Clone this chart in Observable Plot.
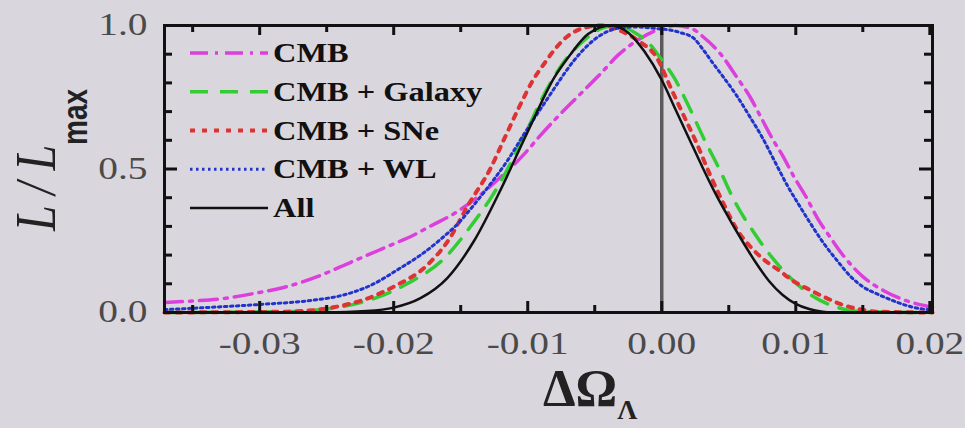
<!DOCTYPE html>
<html><head><meta charset="utf-8">
<script src="https://cdn.jsdelivr.net/npm/d3@7"></script>
<script src="https://cdn.jsdelivr.net/npm/@observablehq/plot@0.6"></script>
<style>
html,body{margin:0;padding:0;background:#d9d6de;}
#chart svg{display:block;background:#d9d6de;}
</style></head><body><div id="chart"></div>
<script>
// ---- data ----
const seriesNames = ["CMB", "CMB + Galaxy", "CMB + SNe", "CMB + WL", "All"];

const cmb = [
  [-0.0371,0.035],[-0.035,0.04],[-0.0325,0.05],[-0.030,0.07],[-0.028,0.09],[-0.0257,0.125],
  [-0.0232,0.175],[-0.0217,0.205],[-0.0202,0.235],[-0.0185,0.27],[-0.0173,0.30],[-0.0153,0.35],
  [-0.0138,0.40],[-0.0123,0.46],[-0.0103,0.55],[-0.009,0.62],[-0.0076,0.69],[-0.0061,0.76],
  [-0.0046,0.83],[-0.0033,0.895],[-0.0016,0.955],[0,0.99],[0.001,1.0],[0.0022,0.99],[0.0031,0.96],
  [0.0044,0.90],[0.0056,0.82],[0.0066,0.75],[0.0074,0.68],[0.0082,0.61],[0.0091,0.54],
  [0.0099,0.47],[0.0108,0.40],[0.0116,0.33],[0.0126,0.26],[0.0136,0.195],[0.015,0.125],
  [0.0166,0.075],[0.018,0.045],[0.0198,0.022],[0.0202,0.018]
];
const cmbGalaxy = [
  [-0.0371,0],[-0.028,0.003],[-0.025,0.012],[-0.0217,0.045],[-0.019,0.10],[-0.0162,0.19],
  [-0.0141,0.31],[-0.0126,0.41],[-0.0101,0.63],[-0.009,0.74],[-0.0075,0.86],[-0.006,0.94],
  [-0.0045,0.99],[-0.0035,1.0],[-0.002,0.975],[-0.0008,0.93],[0,0.88],[0.0009,0.82],
  [0.0021,0.71],[0.0031,0.61],[0.0044,0.49],[0.0053,0.40],[0.007,0.27],[0.0088,0.16],
  [0.011,0.065],[0.0133,0.015],[0.015,0.003],[0.0202,0]
];
const cmbSNe = [
  [-0.0371,0],[-0.028,0.003],[-0.0245,0.018],[-0.0222,0.045],[-0.020,0.09],[-0.0175,0.165],
  [-0.0158,0.26],[-0.0145,0.37],[-0.0128,0.50],[-0.0117,0.61],[-0.0107,0.71],[-0.0096,0.81],
  [-0.0088,0.865],[-0.0081,0.91],[-0.0071,0.96],[-0.0055,0.995],[-0.0045,1.0],[-0.003,0.98],
  [-0.0017,0.945],[-0.0004,0.89],[0.0007,0.78],[0.0016,0.69],[0.0026,0.59],[0.0036,0.48],
  [0.0046,0.38],[0.0056,0.29],[0.0066,0.23],[0.0076,0.185],[0.0088,0.145],[0.0098,0.11],
  [0.011,0.08],[0.0123,0.05],[0.0133,0.03],[0.0146,0.013],[0.016,0.003],[0.0202,0]
];
const cmbWL = [
  [-0.0371,0.01],[-0.0337,0.018],[-0.030,0.028],[-0.0262,0.042],[-0.024,0.058],[-0.0217,0.095],
  [-0.0195,0.155],[-0.018,0.20],[-0.0165,0.255],[-0.015,0.32],[-0.0141,0.37],
  [-0.0125,0.465],[-0.0115,0.53],[-0.0103,0.62],[-0.0086,0.74],[-0.0076,0.81],[-0.0066,0.875],
  [-0.0046,0.965],[-0.0033,0.99],[-0.002,0.995],[-0.0005,0.99],[0.0014,0.975],[0.0024,0.955],
  [0.0031,0.915],[0.0038,0.87],[0.0046,0.82],[0.0056,0.755],[0.0066,0.68],[0.0075,0.61],
  [0.0085,0.52],[0.0094,0.44],[0.0103,0.37],[0.0111,0.31],[0.0121,0.24],[0.0131,0.18],
  [0.0141,0.125],[0.015,0.09],[0.0163,0.06],[0.0176,0.035],[0.0186,0.02],[0.0202,0.008]
];
const all = [
  [-0.0371,0],[-0.025,0],[-0.022,0.005],[-0.020,0.017],[-0.018,0.05],[-0.016,0.12],
  [-0.014,0.25],[-0.012,0.43],[-0.010,0.63],[-0.008,0.82],[-0.0068,0.90],[-0.0055,0.97],
  [-0.0038,1.0],[-0.0025,0.975],[-0.0013,0.91],[0,0.81],[0.001,0.71],
  [0.002,0.61],[0.003,0.51],[0.004,0.415],[0.005,0.33],[0.006,0.25],[0.007,0.175],
  [0.008,0.11],[0.009,0.062],[0.010,0.03],[0.011,0.012],[0.012,0.003],[0.013,0],[0.0202,0]
];

const xTicks = [-0.03, -0.02, -0.01, 0, 0.01, 0.02];
const xMinor = [-0.035, -0.025, -0.015, -0.005, 0.005, 0.015];
const yTicks = [0, 0.5, 1];
const yMinor = [0.1, 0.2, 0.3, 0.4, 0.6, 0.7, 0.8, 0.9];
const xDomain = [-0.0371, 0.0202];
const yDomain = [0, 1];

// ---- styles ----
const seriesData = [cmb, cmbGalaxy, cmbSNe, cmbWL, all];
const styles = [
  {stroke: "#dd3fdd", strokeWidth: 3.5, dash: "18,7,3,7"},
  {stroke: "#33cc33", strokeWidth: 3.5, dash: "18,12"},
  {stroke: "#dd3333", strokeWidth: 4, dash: "5,7"},
  {stroke: "#2233cc", strokeWidth: 3, dash: "2.5,3.5"},
  {stroke: "#111111", strokeWidth: 2.5, dash: null}
];

const W = 965, H = 428, mL = 164, mR = 33, mT = 25, mB = 116;
const pw = W - mL - mR, ph = H - mT - mB;
const tk = {stroke: "#111", strokeWidth: 3};
// tick lengths (pixels) expressed in scale units
const xSpan = xDomain[1] - xDomain[0], ySpan = yDomain[1] - yDomain[0];
const yLen = px => px / ph * ySpan;
const xLen = px => px / pw * xSpan;

const lineMarks = seriesData.map((d, i) => Plot.line(d, {
  x: p => p[0], y: p => p[1],
  stroke: styles[i].stroke, strokeWidth: styles[i].strokeWidth,
  strokeDasharray: styles[i].dash || undefined,
  curve: "monotone-x"
}));

const chart = Plot.plot({
  width: W, height: H,
  marginLeft: mL, marginRight: mR, marginTop: mT, marginBottom: mB,
  style: {background: "#d9d6de", fontFamily: "'Liberation Serif', 'DejaVu Serif', serif", fontSize: "31px"},
  x: {domain: xDomain},
  y: {domain: yDomain},
  marks: [
    Plot.ruleX([0], {stroke: "#5a5a5a", strokeWidth: 3.5}),
    ...lineMarks,
    // inward ticks on all four sides
    Plot.ruleX(xTicks, {x: d => d, y1: yDomain[0], y2: yDomain[0] + yLen(11), ...tk}),
    Plot.ruleX(xTicks, {x: d => d, y1: yDomain[1], y2: yDomain[1] - yLen(10), ...tk}),
    Plot.ruleX(xMinor, {x: d => d, y1: yDomain[0], y2: yDomain[0] + yLen(7), ...tk}),
    Plot.ruleX(xMinor, {x: d => d, y1: yDomain[1], y2: yDomain[1] - yLen(7), ...tk}),
    Plot.ruleY(yTicks, {y: d => d, x1: xDomain[0], x2: xDomain[0] + xLen(13), ...tk}),
    Plot.ruleY(yTicks, {y: d => d, x1: xDomain[1], x2: xDomain[1] - xLen(13), ...tk}),
    Plot.ruleY(yMinor, {y: d => d, x1: xDomain[0], x2: xDomain[0] + xLen(8), ...tk}),
    Plot.ruleY(yMinor, {y: d => d, x1: xDomain[1], x2: xDomain[1] - xLen(8), ...tk}),
    Plot.frame({stroke: "#111", strokeWidth: 3}),
    Plot.axisX({ticks: xTicks, tickSize: 0, tickPadding: 19, tickFormat: d => d.toFixed(2),
                label: null, fontSize: 31, color: "#4a4a4a"}),
    Plot.axisY({ticks: yTicks, tickSize: 0, tickPadding: 17, tickFormat: d => d.toFixed(1),
                label: null, fontSize: 31, color: "#4a4a4a"})
  ]
});
document.getElementById("chart").append(chart);

const svg = d3.select(chart);
// widen tick labels like the stretched original
svg.selectAll("g[aria-label='x-axis tick label'] text, g[aria-label='y-axis tick label'] text").each(function () {
  const l = this.getComputedTextLength();
  this.setAttribute("textLength", l * 1.27);
  this.setAttribute("lengthAdjust", "spacingAndGlyphs");
});

// legend inside the frame
const lg = svg.append("g").attr("font-family", "'Liberation Serif', serif").attr("font-weight", "bold")
  .attr("font-size", 27).attr("fill", "#111").attr("text-anchor", "start");
seriesNames.forEach((name, i) => {
  const y = 53 + i * 38.75;
  const s = styles[i];
  lg.append("line").attr("x1", 190).attr("x2", 268).attr("y1", y).attr("y2", y)
    .attr("stroke", s.stroke).attr("stroke-width", s.strokeWidth)
    .attr("stroke-dasharray", s.dash);
  const t = lg.append("text").attr("x", 273).attr("y", y).attr("dy", "0.34em")
    .attr("text-anchor", "start").text(name);
  const l = t.node().getComputedTextLength();
  t.attr("textLength", l * 1.2).attr("lengthAdjust", "spacingAndGlyphs");
});

// y-axis label: L / L_max
const yl = svg.append("text")
  .attr("transform", "translate(55,160) scale(1.25,1) rotate(-90)")
  .attr("text-anchor", "middle").attr("fill", "#222")
  .attr("font-family", "'Liberation Serif', serif");
yl.append("tspan").attr("font-style", "italic").attr("font-size", 46).text("L / L");
yl.append("tspan").attr("font-family", "'Liberation Sans', sans-serif").attr("font-weight", "bold")
  .attr("font-size", 28).attr("dy", 26).text("max");

// x-axis label: ΔΩ_Λ
const xl = svg.append("text").attr("x", 543).attr("y", 406).attr("fill", "#222")
  .attr("text-anchor", "start")
  .attr("font-family", "'Liberation Serif', serif").attr("font-weight", "bold");
xl.append("tspan").attr("font-size", 52).text("ΔΩ");
xl.append("tspan").attr("font-size", 28).attr("dy", 13).text("Λ");
</script></body></html>
